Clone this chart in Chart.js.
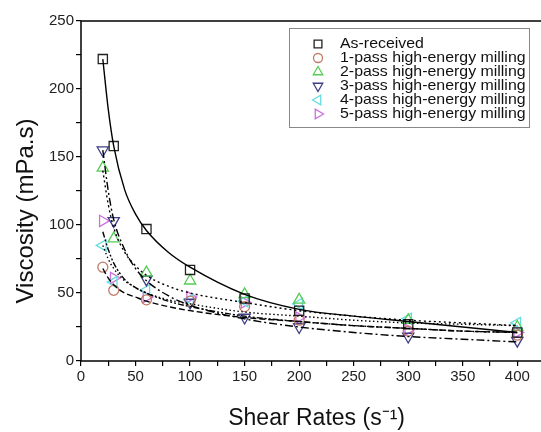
<!DOCTYPE html>
<html><head><meta charset="utf-8">
<script src="https://cdn.jsdelivr.net/npm/chart.js@4.4.0/dist/chart.umd.min.js"></script>
<style>html,body{margin:0;padding:0;background:#fff;overflow:hidden;width:541px;height:432px}#wrap{width:560px;height:432px}</style>
</head><body><div id="wrap"><canvas id="c" width="560" height="432"></canvas></div>
<script>
// Measured data (shear rate in s^-1, viscosity in mPa.s)
const shearRates = [20, 30, 60, 100, 150, 200, 300, 400];
const asReceived = [222, 158, 97, 67, 46, 37, 27, 21];
const pass1 = [69, 52, 45, 44, 40, 30, 22, 19];
const pass2 = [142, 90, 65, 59, 49, 45, 30, 25];
const pass3 = [155, 103, 60, 43, 32, 25, 18, 15];
const pass4 = [85, 58, 52, 45, 44, 42, 31, 28];
const pass5 = [103, 61, 47, 47, 43, 32, 23, 21];

// Fitted curves at these shear rates
const fitRates = [20, 25, 30, 40, 50, 60, 80, 100, 150, 200, 250, 300, 350, 400];
const fitAsReceived = [222, 185, 158, 126, 108, 96, 80, 69, 49, 38, 33, 29, 25, 21];
const fitPass1 = [68, 61, 56, 50, 47, 44, 40, 37, 32, 29, 26, 24, 22, 21];
const fitPass2 = [140, 115, 98, 80, 70, 63, 55, 50, 43, 37, 33, 30, 28, 26];
const fitPass3 = [155, 125, 104, 82, 68, 59, 48, 41, 31, 25, 21, 18, 16, 14];
const fitPass4 = [85, 75, 68, 59, 54, 50, 45, 42, 36, 33, 30, 28, 27, 26];
const fitPass5 = [95, 82, 72, 60, 54, 50, 44, 40, 33, 29, 26, 24, 22, 21];

const seriesLabels = ['As-received', '1-pass high-energy milling', '2-pass high-energy milling',
  '3-pass high-energy milling', '4-pass high-energy milling', '5-pass high-energy milling'];
const yTicks = [0, 50, 100, 150, 200, 250];
const xTicks = [0, 50, 100, 150, 200, 250, 300, 350, 400];
const yTitle = 'Viscosity (mPa.s)';
const xTitle = 'Shear Rates (s\u207B\u00B9)';

const pts = [asReceived, pass1, pass2, pass3, pass4, pass5];
const fits = [fitAsReceived, fitPass1, fitPass2, fitPass3, fitPass4, fitPass5];
const colors = ['#222222', '#c07a66', '#55cc55', '#3d3d88', '#66dde0', '#cc70dd'];
const styles = ['rect', 'circle', 'triangle', 'triangle', 'triangle', 'triangle'];
const rotations = [0, 0, 0, 180, 270, 90];
const radii = [6.5, 5, 6.5, 6.5, 6.5, 6.5];
const legendRadii = [5.5, 4.5, 5.5, 5.5, 5.5, 5.5];
const dashes = [[], [6, 3], [2, 3], [8, 3, 2, 3], [1.5, 2.5], [6, 2, 2, 2, 2, 2]];
const FONT = '"Liberation Sans", Arial, sans-serif';

const datasets = [];
fits.forEach((f, i) => {
  datasets.push({
    label: 'fit' + i, data: fitRates.map((x, k) => ({x, y: f[k]})),
    showLine: true, borderColor: '#000', borderWidth: 1.4, borderDash: dashes[i],
    pointRadius: 0, fill: false, cubicInterpolationMode: 'monotone'
  });
});
pts.forEach((p, i) => {
  datasets.push({
    label: seriesLabels[i], data: shearRates.map((x, k) => ({x, y: p[k]})),
    showLine: false, pointStyle: styles[i], rotation: rotations[i], pointRadius: radii[i],
    pointBorderColor: colors[i], pointBackgroundColor: 'rgba(0,0,0,0)', pointBorderWidth: 1.3,
    borderColor: colors[i], backgroundColor: 'rgba(0,0,0,0)'
  });
});

const frame = {
  id: 'frame',
  afterDraw(chart) {
    const {ctx, chartArea: a} = chart;
    ctx.save();
    ctx.strokeStyle = '#000'; ctx.lineWidth = 1.5;
    ctx.strokeRect(a.left, a.top, a.right - a.left, a.bottom - a.top);
    // y-axis title
    ctx.save();
    ctx.translate(26, 211);
    ctx.rotate(-Math.PI / 2);
    ctx.font = '24px ' + FONT;
    ctx.fillStyle = '#111';
    ctx.textAlign = 'center';
    ctx.textBaseline = 'middle';
    ctx.fillText(yTitle, 0, 0);
    ctx.restore();
    // legend box
    const bx = 289, by = 28, bw = 240, bh = 99;
    ctx.fillStyle = '#fff';
    ctx.fillRect(bx, by, bw, bh);
    ctx.strokeStyle = '#888'; ctx.lineWidth = 1;
    ctx.strokeRect(bx + 0.5, by + 0.5, bw, bh);
    ctx.font = '15px ' + FONT;
    ctx.textBaseline = 'middle';
    seriesLabels.forEach((lab, i) => {
      const y = 43 + i * 14;
      ctx.strokeStyle = colors[i]; ctx.lineWidth = 1.3;
      ctx.fillStyle = 'rgba(0,0,0,0)';
      Chart.helpers.drawPoint(ctx, {pointStyle: styles[i], rotation: rotations[i], radius: legendRadii[i], borderWidth: 1.3}, 318, y + 1);
      ctx.fillStyle = '#111';
      ctx.save();
      ctx.translate(340, y + 1);
      ctx.scale(1.06, 1);
      ctx.fillText(lab, 0, 0);
      ctx.restore();
    });
    ctx.restore();
  }
};

new Chart(document.getElementById('c'), {
  type: 'scatter',
  data: {datasets},
  plugins: [frame],
  options: {
    responsive: false, animation: false,
    layout: {padding: {top: 21, right: 0, left: 0, bottom: 0}},
    plugins: {legend: {display: false}, tooltip: {enabled: false}},
    scales: {
      x: {
        type: 'linear', min: 0, max: 432,
        afterFit(s) { s.height = 71; },
        border: {display: false},
        grid: {drawOnChartArea: false, tickLength: 5, color: '#000', lineWidth: 1.2},
        ticks: {stepSize: 25, color: '#222', padding: 2,
          font: {family: FONT, size: 15},
          maxRotation: 0, autoSkip: false,
          callback: v => (xTicks.includes(v) ? String(v) : '')},
        title: {display: true, text: xTitle, color: '#111',
          font: {family: FONT, size: 23}, padding: {top: 0, bottom: 0}}
      },
      y: {
        type: 'linear', min: 0, max: 250,
        afterFit(s) { s.width = 81; },
        border: {display: false},
        grid: {drawOnChartArea: false, tickLength: 5, color: '#000', lineWidth: 1.2},
        ticks: {stepSize: 25, color: '#222', padding: 2,
          font: {family: FONT, size: 15},
          callback: v => (yTicks.includes(v) ? String(v) : '')},
        title: {display: false}
      }
    }
  }
});
</script></body></html>
